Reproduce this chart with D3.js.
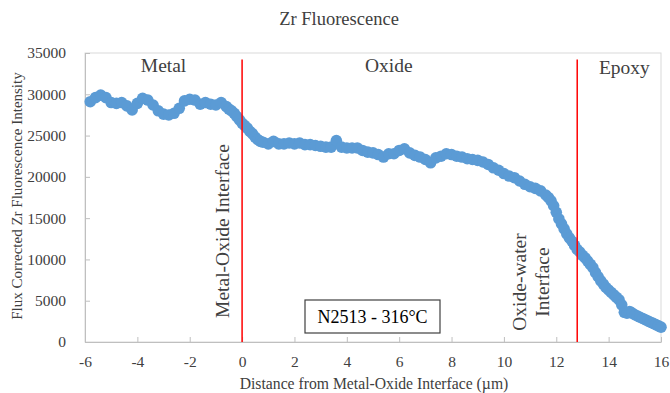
<!DOCTYPE html>
<html>
<head>
<meta charset="utf-8">
<script src="https://cdn.jsdelivr.net/npm/d3@7"></script>
<style>
  body { margin: 0; background: #fff; }
  text { font-family: "Liberation Serif", "Times New Roman", serif; fill: #404040; }
</style>
</head>
<body>
<div id="chart"></div>
<script>
// distance (um) and flux corrected Zr fluorescence
const distance = [
  -5.8, -5.6, -5.4, -5.2, -5.0, -4.8, -4.6, -4.4, -4.2, -4.0,
  -3.8, -3.6, -3.4, -3.2, -3.0, -2.8, -2.6, -2.4, -2.2, -2.0,
  -1.8, -1.6, -1.4, -1.2, -1.0, -0.8, -0.6, -0.5, -0.4, -0.3,
  -0.2, -0.1, 0.0, 0.1, 0.2, 0.3, 0.4, 0.5, 0.6, 0.7,
  0.8, 1.0, 1.2, 1.4, 1.6, 1.8, 2.0,
  2.2, 2.4, 2.6, 2.8, 3.0, 3.2, 3.4, 3.6, 3.8, 4.0,
  4.2, 4.4, 4.6, 4.8, 5.0, 5.2, 5.4, 5.6, 5.8, 6.0,
  6.2, 6.4, 6.6, 6.8, 7.0, 7.2, 7.4, 7.6, 7.8, 8.0,
  8.2, 8.4, 8.6, 8.8, 9.0, 9.2, 9.4, 9.6, 9.8, 10.0,
  10.2, 10.4, 10.6, 10.8, 11.0, 11.2, 11.4, 11.6, 11.7, 11.8,
  11.9, 12.0, 12.1, 12.2, 12.3, 12.4, 12.5, 12.6, 12.7, 12.8,
  12.9, 13.0, 13.1, 13.2, 13.3, 13.4, 13.5, 13.6, 13.7, 13.8,
  13.9, 14.0, 14.1, 14.2, 14.3, 14.4, 14.5, 14.6, 14.7, 14.8,
  14.9, 15.0, 15.1, 15.2, 15.3, 15.4, 15.5, 15.6, 15.7, 15.8,
  15.9, 16.0
];
const intensity = [
  29100, 29600, 29900, 29600, 29000, 28900, 29000, 28600, 28100, 28900,
  29500, 29300, 28700, 28000, 27600, 27500, 27700, 28300, 29200, 29400,
  29300, 28800, 29000, 28800, 28700, 29000, 28500, 28200, 28000, 27700,
  27300, 26900, 26500, 26200, 25900, 25500, 25200, 24800, 24500, 24300,
  24200, 24000, 24300, 24000, 24000, 24100, 24000,
  24100, 23900, 23900, 23800, 23700, 23600, 23600, 24400, 23600, 23500,
  23500, 23500, 23200, 23000, 22900, 22700, 22400, 22800, 22800, 23200,
  23400, 22900, 22600, 22400, 22100, 21700, 22300, 22500, 22800, 22700,
  22500, 22400, 22200, 22100, 22000, 21800, 21500, 21100, 20800, 20400,
  20100, 19900, 19500, 19100, 18800, 18600, 18300, 17800, 17500, 17100,
  16500, 15700, 14900, 14300, 13700, 13100, 12600, 12200, 11700, 11200,
  10900, 10500, 10200, 9800, 9400, 9000, 8400, 7900, 7400, 7000,
  6600, 6300, 6000, 5700, 5400, 5100, 4500, 3600, 3500, 3700,
  3500, 3300, 3150, 3000, 2850, 2700, 2550, 2400, 2250, 2100,
  1950, 1800
];

const xTicks = [-6, -4, -2, 0, 2, 4, 6, 8, 10, 12, 14, 16];
const yTicks = [0, 5000, 10000, 15000, 20000, 25000, 30000, 35000];

// red interface lines and their top value
const interfaces = [0, 12.8];
const interfaceTop = 34200;

// region labels: [text, x, y]
const regions = [["Metal", -3.0, 32700], ["Oxide", 5.6, 32700], ["Epoxy", 14.6, 32400]];

const title = "Zr Fluorescence";
const xLabel = "Distance from Metal-Oxide Interface (µm)";
const yLabel = "Flux Corrected Zr Fluorescence Intensity";
const boxLabel = "N2513 - 316°C";

const W = 670, H = 393;
const margin = { top: 53, right: 9, bottom: 51, left: 85 };
const width = W - margin.left - margin.right;
const height = H - margin.top - margin.bottom;

const svg = d3.select("#chart").append("svg")
    .attr("width", W)
    .attr("height", H);

const x = d3.scaleLinear().domain([-6, 16]).range([0, width]);
const y = d3.scaleLinear().domain([0, 35000]).range([height, 0]);

svg.append("text")
    .attr("x", 339)
    .attr("y", 25)
    .attr("text-anchor", "middle")
    .style("font-size", "18.5px")
    .text(title);

const chart = svg.append("g")
    .attr("transform", "translate(" + margin.left + "," + margin.top + ")");

// plot area border
chart.append("rect")
    .attr("width", width)
    .attr("height", height)
    .attr("fill", "none")
    .attr("stroke", "#d9d9d9");

const xAxis = d3.axisBottom(x)
    .tickValues(xTicks)
    .tickSizeInner(-5)
    .tickSizeOuter(0)
    .tickPadding(14)
    .tickFormat(d => String(d));

const yAxis = d3.axisLeft(y)
    .tickValues(yTicks)
    .tickSizeInner(-5)
    .tickSizeOuter(0)
    .tickPadding(19)
    .tickFormat(d => String(d));

const gx = chart.append("g")
    .attr("transform", "translate(0," + height + ")")
    .call(xAxis);
const gy = chart.append("g").call(yAxis);

[gx, gy].forEach(g => {
    g.selectAll(".domain").attr("stroke", "#bfbfbf");
    g.selectAll(".tick line").attr("stroke", "#bfbfbf");
    g.selectAll(".tick text")
        .style("font-family", "'Liberation Serif', serif")
        .style("font-size", "15.5px")
        .attr("fill", "#404040");
});

// points
chart.append("g")
    .selectAll("circle")
    .data(distance.map((d, i) => [d, intensity[i]]))
    .join("circle")
    .attr("cx", d => x(d[0]))
    .attr("cy", d => y(d[1]))
    .attr("r", 5.8)
    .attr("fill", "#5b9bd5");

// interface lines
chart.selectAll(".iface")
    .data(interfaces)
    .join("line")
    .attr("class", "iface")
    .attr("x1", d => x(d))
    .attr("x2", d => x(d))
    .attr("y1", y(interfaceTop))
    .attr("y2", height)
    .attr("stroke", "#ff0000")
    .attr("stroke-width", 1.5);

chart.selectAll(".region")
    .data(regions)
    .join("text")
    .attr("class", "region")
    .attr("x", d => x(d[1]))
    .attr("y", d => y(d[2]))
    .attr("text-anchor", "middle")
    .style("font-size", "19.5px")
    .text(d => d[0]);

// rotated interface labels
chart.append("text")
    .attr("transform", "translate(" + (x(0) - 13) + "," + 178 + ") rotate(-90)")
    .attr("text-anchor", "middle")
    .style("font-size", "19.5px")
    .text("Metal-Oxide Interface");

chart.append("text")
    .attr("transform", "translate(" + (x(12.8) - 51) + "," + 229 + ") rotate(-90)")
    .attr("text-anchor", "middle")
    .style("font-size", "19.5px")
    .text("Oxide-water");

chart.append("text")
    .attr("transform", "translate(" + (x(12.8) - 28) + "," + 229 + ") rotate(-90)")
    .attr("text-anchor", "middle")
    .style("font-size", "19.5px")
    .text("Interface");

// sample box
chart.append("rect")
    .attr("x", 220)
    .attr("y", 247)
    .attr("width", 135)
    .attr("height", 33)
    .attr("fill", "#fff")
    .attr("stroke", "#404040")
    .attr("stroke-width", 1.2);

chart.append("text")
    .attr("x", 287.5)
    .attr("y", 270)
    .attr("text-anchor", "middle")
    .style("font-size", "18px")
    .style("fill", "#000")
    .text(boxLabel);

svg.append("text")
    .attr("x", 374)
    .attr("y", 389)
    .attr("text-anchor", "middle")
    .style("font-size", "15.7px")
    .text(xLabel);

svg.append("text")
    .attr("transform", "translate(22,196) rotate(-90)")
    .attr("text-anchor", "middle")
    .style("font-size", "15px")
    .text(yLabel);
</script>
</body>
</html>
